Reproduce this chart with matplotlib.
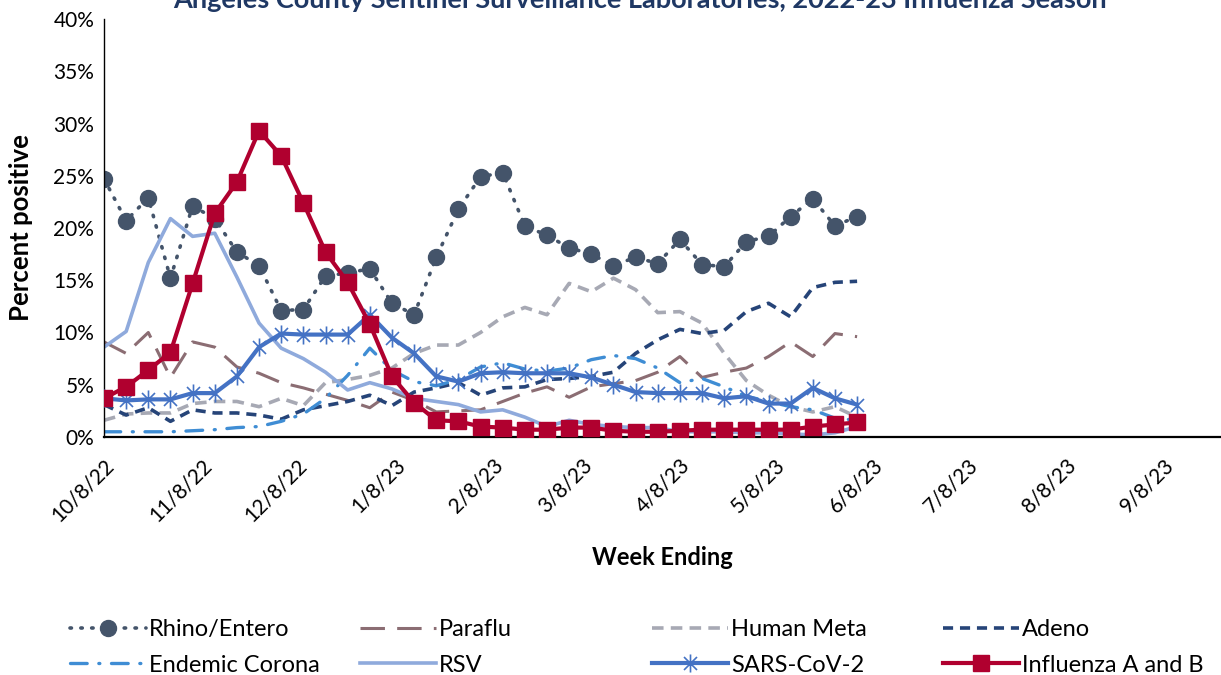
import matplotlib
matplotlib.use("Agg")
import matplotlib.pyplot as plt
from matplotlib.path import Path
from matplotlib.ticker import PercentFormatter, FixedLocator, FuncFormatter
import matplotlib.dates as mdates
import pandas as pd
from datetime import datetime

plt.rcParams['font.family'] = ['Lato', 'DejaVu Sans']

# weekly data, week ending Saturdays from 10/8/22
weeks = pd.date_range('2022-10-08', periods=35, freq='7D')

rhino = [24.7, 20.7, 22.9, 15.2, 22.1, 20.9, 17.7, 16.4, 12.1, 12.2,
         15.4, 15.7, 16.1, 12.8, 11.7, 17.2, 21.8, 24.9, 25.3, 20.2,
         19.3, 18.1, 17.5, 16.4, 17.2, 16.6, 18.9, 16.5, 16.3, 18.7,
         19.2, 21.1, 22.8, 20.2, 21.1]
paraflu = [9.1, 8.0, 10.0, 5.7, 9.1, 8.6, 6.7, 6.1, 5.2, 4.7,
           4.1, 3.5, 2.8, 4.3, 3.5, 2.4, 2.5, 2.6, 3.4, 4.2,
           4.8, 3.8, 4.8, 5.1, 5.4, 6.2, 7.7, 5.7, 6.2, 6.6,
           7.7, 9.1, 7.7, 9.9, 9.6]
human_meta = [1.6, 2.2, 2.3, 2.3, 3.2, 3.4, 3.4, 2.9, 3.7, 3.0,
              5.2, 5.5, 5.9, 6.6, 8.0, 8.8, 8.8, 10.0, 11.5, 12.4,
              11.7, 14.7, 13.9, 15.2, 14.1, 11.9, 12.0, 10.9, 8.0, 5.4,
              4.0, 2.9, 2.4, 2.9, 1.9]
adeno = [3.1, 2.1, 2.8, 1.5, 2.6, 2.3, 2.3, 2.1, 1.7, 2.6,
         3.0, 3.4, 4.0, 3.0, 4.3, 4.7, 5.2, 4.0, 4.7, 4.8,
         5.5, 5.6, 5.8, 6.2, 8.0, 9.3, 10.3, 9.9, 10.2, 12.0,
         12.8, 11.5, 14.3, 14.8, 14.9]
endemic_corona = [0.5, 0.5, 0.5, 0.5, 0.6, 0.7, 0.9, 1.0, 1.5, 2.2,
                  3.7, 5.9, 8.5, 6.4, 5.3, 4.9, 5.5, 6.7, 7.1, 6.5,
                  6.3, 6.6, 7.4, 7.8, 7.5, 6.6, 5.2, 5.6, 4.8, 3.9,
                  3.4, 2.9, 2.6, 1.8, 1.6]
rsv = [8.6, 10.1, 16.7, 20.9, 19.2, 19.5, 15.3, 10.9, 8.5, 7.5,
       6.2, 4.5, 5.2, 4.6, 3.7, 3.4, 3.1, 2.4, 2.6, 1.9,
       1.0, 1.6, 1.2, 1.0, 0.9, 0.9, 0.5, 0.5, 0.5, 0.4,
       0.4, 0.3, 0.2, 0.4, 1.0]
sars_cov2 = [3.7, 3.5, 3.6, 3.6, 4.2, 4.2, 5.8, 8.6, 9.9, 9.8,
             9.8, 9.8, 11.7, 9.5, 8.0, 5.8, 5.3, 6.1, 6.2, 6.1,
             6.1, 6.1, 5.7, 5.0, 4.3, 4.2, 4.2, 4.2, 3.7, 3.9,
             3.2, 3.2, 4.7, 3.7, 3.1]
influenza = [3.7, 4.8, 6.4, 8.1, 14.7, 21.4, 24.4, 29.3, 26.9, 22.4,
             17.7, 14.8, 10.8, 5.8, 3.3, 1.6, 1.5, 1.0, 0.9, 0.7,
             0.7, 0.9, 0.9, 0.6, 0.5, 0.5, 0.6, 0.7, 0.7, 0.7,
             0.7, 0.7, 1.0, 1.2, 1.4]

tick_dates = [datetime(2022, 10, 8), datetime(2022, 11, 8), datetime(2022, 12, 8),
              datetime(2023, 1, 8), datetime(2023, 2, 8), datetime(2023, 3, 8),
              datetime(2023, 4, 8), datetime(2023, 5, 8), datetime(2023, 6, 8),
              datetime(2023, 7, 8), datetime(2023, 8, 8), datetime(2023, 9, 8)]

# asterisk marker like excel's
star = Path([(0, -1), (0, 1), (-0.72, -0.72), (0.72, 0.72), (-0.72, 0.72), (0.72, -0.72)],
            [Path.MOVETO, Path.LINETO] * 3)

fig = plt.figure(figsize=(12.21, 6.75), dpi=100)
ax = fig.add_axes([104 / 1221, 1 - 437 / 675, 1.0 - 104 / 1221, (437 - 19) / 675])

h = {}
h['Rhino/Entero'], = ax.plot(weeks, rhino, color='#44546A', lw=2.6, ls=(0, (0.4, 2.6)),
                             dash_capstyle='round', marker='o', ms=11.5, zorder=2)
h['Paraflu'], = ax.plot(weeks, paraflu, color='#8B6D73', lw=2.2, ls=(0, (8, 4)), zorder=2)
h['Human Meta'], = ax.plot(weeks, human_meta, color='#A7A9B4', lw=2.6, ls=(0, (3.2, 2)), zorder=2)
h['Adeno'], = ax.plot(weeks, adeno, color='#264478', lw=2.6, ls=(0, (2.8, 1.9)), zorder=2)
h['Endemic Corona'], = ax.plot(weeks, endemic_corona, color='#3F8DD4', lw=2.4,
                               ls=(0, (5, 3.5, 0.3, 3.5)), dash_capstyle='round', zorder=2)
h['RSV'], = ax.plot(weeks, rsv, color='#8FAADC', lw=2.6, zorder=2)
h['SARS-CoV-2'], = ax.plot(weeks, sars_cov2, color='#4472C4', lw=3.0, marker=star, ms=13,
                           mfc='none', mec='#4472C4', mew=1.2, zorder=3)
h['Influenza A and B'], = ax.plot(weeks, influenza, color='#B0002F', lw=3.0, marker='s',
                                  ms=12, zorder=4)

ax.set_xlim(datetime(2022, 10, 8), datetime(2023, 9, 26))
ax.set_ylim(0, 40)
ax.set_yticks(range(0, 41, 5))
ax.yaxis.set_major_formatter(PercentFormatter(xmax=100, decimals=0))
ax.xaxis.set_major_locator(FixedLocator([mdates.date2num(d) for d in tick_dates]))
ax.xaxis.set_major_formatter(FuncFormatter(
    lambda v, p: (lambda d: f"{d.month}/{d.day}/{d.year % 100}")(mdates.num2date(v))))
for lbl in ax.get_xticklabels():
    lbl.set_rotation(45)
    lbl.set_ha('right')
    lbl.set_rotation_mode('anchor')
ax.tick_params(axis='both', length=0, labelsize=15, colors='black')
ax.tick_params(axis='x', pad=13)
ax.tick_params(axis='y', pad=7)
ax.spines['top'].set_visible(False)
ax.spines['right'].set_visible(False)
ax.spines['left'].set_linewidth(1.0)
ax.spines['bottom'].set_linewidth(1.6)

ax.set_xlabel('Week Ending', fontsize=17, fontweight='bold', labelpad=15)
ax.set_ylabel('Percent positive', fontsize=18.5, fontweight='bold', labelpad=15)

fig.text(0.524, 1 - 8 / 675, 'Angeles County Sentinel Surveillance Laboratories, 2022-23 Influenza Season',
         ha='center', va='baseline', fontsize=19.5, fontweight='bold', color='#1F3864')

names = list(h.keys())
col_x = [70, 360, 652, 943]
for i, x in enumerate(col_x):
    pair = [names[i], names[i + 4]]
    fig.legend([h[n] for n in pair], pair, loc='upper left',
               bbox_to_anchor=(x / 1221, 1 - 619 / 675), frameon=False,
               fontsize=17, handlelength=3.2, handletextpad=0.15,
               labelspacing=0.62, borderpad=0, borderaxespad=0)

fig.savefig('out.png', dpi=100)
